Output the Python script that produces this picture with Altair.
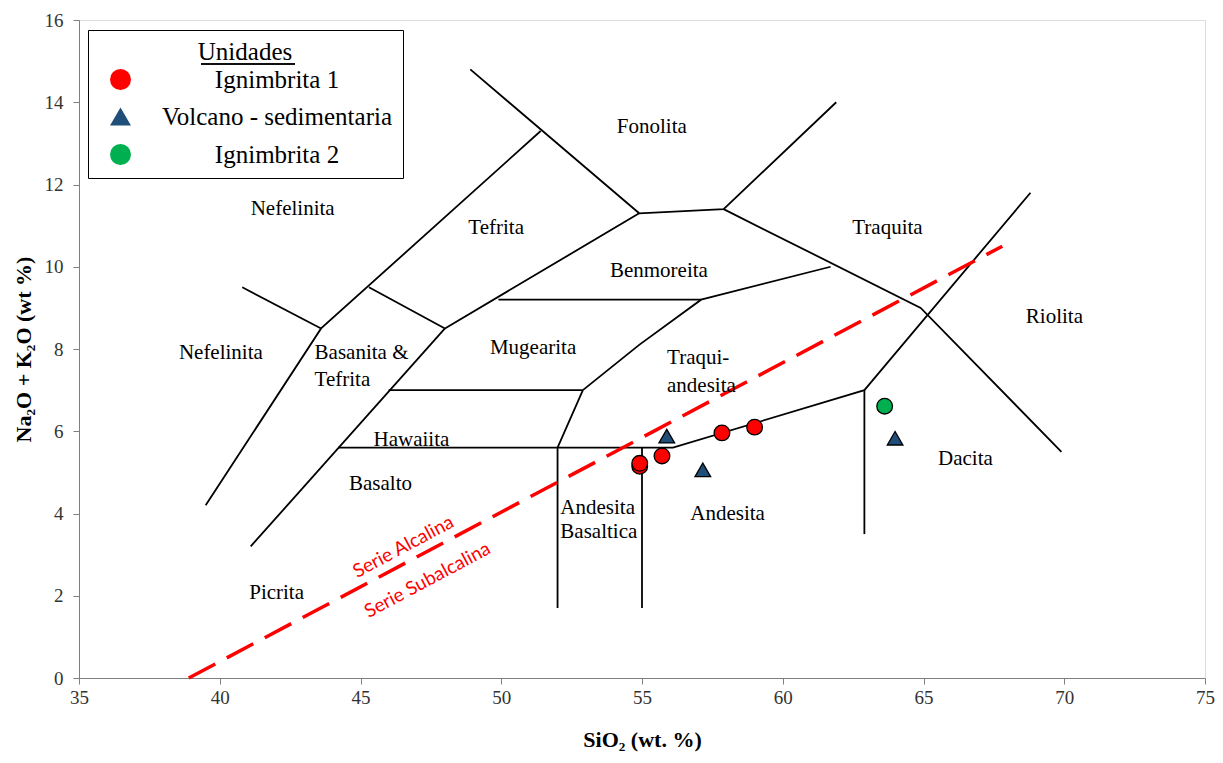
import altair as alt
import pandas as pd

# ---- classification boundaries (SiO2, Na2O+K2O) ----
boundaries = [
    [(39.5, 4.2), (43.6, 8.5), (51.4, 13.3)],
    [(48.9, 14.8), (54.9, 11.3), (57.9, 11.4), (61.9, 14.0)],
    [(40.8, 9.5), (43.6, 8.5)],
    [(45.3, 9.5), (48.0, 8.5), (54.9, 11.3)],
    [(41.1, 3.2), (48.0, 8.5)],
    [(46.0, 7.0), (52.9, 7.0)],
    [(44.2, 5.6), (56.1, 5.6), (62.9, 7.0), (68.8, 11.8)],
    [(52.9, 7.0), (52.0, 5.6), (52.0, 1.7)],
    [(55.0, 5.6), (55.0, 1.7)],
    [(62.9, 7.0), (62.9, 3.5)],
    [(52.9, 7.0), (54.9, 8.1), (57.1, 9.2), (61.7, 10.0)],
    [(49.9, 9.2), (57.1, 9.2)],
    [(57.9, 11.4), (64.9, 9.0), (69.9, 5.5)],
]

# alkaline / subalkaline divide
divide_x = [38.9, 67.8]
divide_y = [0.0, 10.5]

# samples
ign1_x = [54.92, 54.92, 55.71, 57.84, 59.0]
ign1_y = [5.15, 5.22, 5.40, 5.96, 6.10]
volc_x = [55.88, 57.16, 63.99]
volc_y = [5.88, 5.06, 5.83]
ign2_x = [63.62]
ign2_y = [6.61]
units = ["Ignimbrita 1", "Volcano - sedimentaria", "Ignimbrita 2"]

# field names (centred)
names_c = ["Fonolita", "Nefelinita", "Tefrita", "Traquita", "Benmoreita", "Riolita",
           "Nefelinita", "Mugearita", "Hawaiita", "Basalto", "Dacita", "Andesita", "Picrita"]
names_c_x = [55.35, 42.59, 49.82, 63.72, 55.60, 69.65, 40.04, 51.13, 46.81, 45.71, 66.49, 58.04, 42.02]
names_c_y = [13.40, 11.40, 10.94, 10.94, 9.90, 8.78, 7.90, 8.02, 5.79, 4.72, 5.33, 3.99, 2.07]
# field names (left aligned)
names_l = ["Basanita &", "Tefrita", "Traqui-", "andesita", "Andesita", "Basaltica"]
names_l_x = [43.37, 43.37, 55.89, 55.89, 52.10, 52.10]
names_l_y = [7.90, 7.25, 7.78, 7.10, 4.13, 3.55]
# series names
series = ["Serie Alcalina", "Serie Subalcalina"]
series_x = [46.52, 47.38]
series_y = [3.19, 2.38]

rows = []
for i, seg in enumerate(boundaries):
    for j, (x, y) in enumerate(seg):
        rows.append({"seg": i, "ord": j, "x": x, "y": y})
df_lines = pd.DataFrame(rows)
df_div = pd.DataFrame({"x": divide_x, "y": divide_y})
df_pts = pd.DataFrame(
    [{"x": x, "y": y, "unit": units[0]} for x, y in zip(ign1_x, ign1_y)]
    + [{"x": x, "y": y, "unit": units[1]} for x, y in zip(volc_x, volc_y)]
    + [{"x": x, "y": y, "unit": units[2]} for x, y in zip(ign2_x, ign2_y)]
)
df_pts["i"] = range(len(df_pts))
df_c = pd.DataFrame({"t": names_c, "x": names_c_x, "y": names_c_y})
df_l = pd.DataFrame({"t": names_l, "x": names_l_x, "y": names_l_y})
df_s = pd.DataFrame({"t": series, "x": series_x, "y": series_y})

SERIF = "Liberation Serif"
xscale = alt.Scale(domain=[35, 75], nice=False, zero=False)
yscale = alt.Scale(domain=[0, 16], nice=False, zero=False)
xaxis = alt.Axis(values=list(range(35, 76, 5)), grid=False, tickSize=6, tickColor="#7f7f7f",
                 domainColor="#7f7f7f", labelFont=SERIF, labelFontSize=19, labelColor="#333333",
                 labelFlush=False, labelPadding=4, title="SiO₂ (wt. %)", titleFont=SERIF,
                 titleFontSize=22, titleFontWeight="bold", titleColor="black", titlePadding=22)
yaxis = alt.Axis(values=list(range(0, 17, 2)), grid=False, tickSize=6, tickColor="#7f7f7f",
                 domainColor="#7f7f7f", labelFont=SERIF, labelFontSize=19, labelColor="#333333",
                 labelFlush=False, labelPadding=10, title="Na₂O + K₂O (wt %)", titleFont=SERIF,
                 titleFontSize=22, titleFontWeight="bold", titleColor="black", titlePadding=9)

X = alt.X("x:Q", scale=xscale, axis=xaxis)
Y = alt.Y("y:Q", scale=yscale, axis=yaxis)

lines = alt.Chart(df_lines).mark_line(color="black", strokeWidth=1.8).encode(
    x=X, y=Y, detail="seg:N", order="ord:Q")
divide = alt.Chart(df_div).mark_line(color="#FF0000", strokeWidth=3.5, strokeDash=[30, 13]).encode(
    x=X, y=Y)
txt_c = alt.Chart(df_c).mark_text(font=SERIF, fontSize=21, color="black", align="center",
                                  baseline="middle").encode(x=X, y=Y, text="t:N")
txt_l = alt.Chart(df_l).mark_text(font=SERIF, fontSize=21, color="black", align="left",
                                  baseline="middle").encode(x=X, y=Y, text="t:N")
txt_s = alt.Chart(df_s).mark_text(font="Lato", fontSize=19, color="#FF0000", align="center",
                                  baseline="middle", angle=332).encode(x=X, y=Y, text="t:N")

legend = alt.Legend(title="Unidades", orient="none", legendX=9, legendY=10,
                    titleFont=SERIF, titleFontSize=25, titleFontWeight="normal", titleColor="black",
                    titleAnchor="middle", titlePadding=2,
                    labelFont=SERIF, labelFontSize=25, labelColor="black", labelOffset=144,
                    labelAlign="center", labelLimit=400,
                    symbolSize=440, symbolStrokeColor="black", symbolStrokeWidth=1.5,
                    symbolOffset=10, symbolOpacity=1, rowPadding=11, padding=10,
                    strokeColor="black")
pts = alt.Chart(df_pts).mark_point(filled=True, size=245, stroke="black", strokeWidth=1.3,
                                   opacity=1).encode(
    x=X, y=Y,
    color=alt.Color("unit:N", scale=alt.Scale(domain=units, range=["#FF0000", "#1F4E79", "#00B050"]),
                    legend=legend),
    shape=alt.Shape("unit:N", scale=alt.Scale(domain=units, range=["circle", "triangle-up", "circle"]),
                    legend=legend),
    order="i:Q",
)

underline = alt.Chart(df_div).mark_rule(color="black", strokeWidth=1.3).encode(
    x=alt.value(122), x2=alt.value(216), y=alt.value(44))

chart = alt.layer(lines, divide, txt_c, txt_l, txt_s, pts, underline).properties(
    width=1126, height=658,
    autosize=alt.AutoSizeParams(type="none"),
    padding={"left": 71, "top": 12, "right": 10, "bottom": 77},
).configure_view(stroke="#7f7f7f", strokeWidth=1.2).configure_axis(
    labelFont=SERIF, titleFont=SERIF).configure(background="white")

chart.save("out.html", embed_options={"renderer": "svg", "actions": False})
